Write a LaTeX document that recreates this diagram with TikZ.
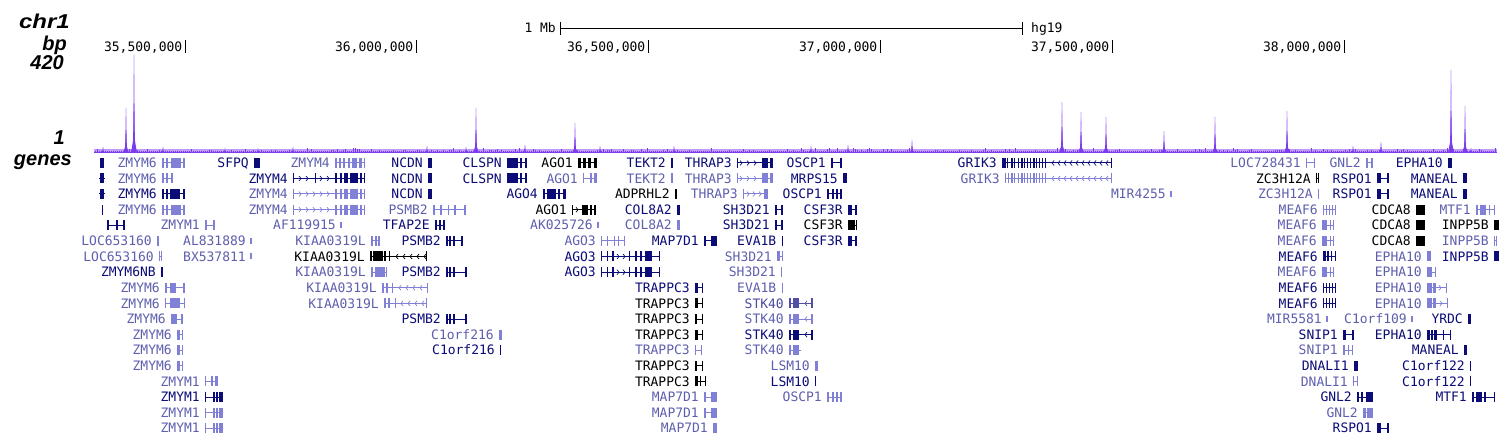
\documentclass[tikz,border=0pt]{standalone}
\usepackage{fontspec}
\newfontfamily\gf{DejaVu Sans Mono}
\newfontfamily\lf{Liberation Sans}
\definecolor{gD}{RGB}{12,12,120}
\definecolor{tD}{RGB}{12,12,120}
\definecolor{gL}{RGB}{128,128,215}
\definecolor{tL}{RGB}{95,95,175}
\definecolor{gM}{RGB}{80,80,170}
\definecolor{tM}{RGB}{75,75,160}
\definecolor{gK}{RGB}{0,0,0}
\definecolor{tK}{RGB}{0,0,0}
\definecolor{sigD}{RGB}{125,60,235}
\definecolor{sigL}{RGB}{192,155,252}
\newcounter{gc}
\tikzset{
  glab/.style={font=\gf\fontsize{13}{13}\selectfont, anchor=base east, inner sep=0pt},
  axl/.style={font=\gf\fontsize{13}{13}\selectfont, anchor=base east, inner sep=0pt, text=black},
  lbl/.style={font=\lf\bfseries\itshape\fontsize{20}{20}\selectfont, anchor=base east, inner sep=0pt, text=black},
}
\newcommand\gly[5]{%
  \draw[g#4, line width=1pt] (#2,#1) -- (#3,#1);
  \foreach \p/\q in {#5} {\fill[g#4] (\p,#1-5) rectangle (\q,#1+5);}
}
\newcommand\gene[6]{%
  \stepcounter{gc}%
  \node[glab, text=t#4] (gene\thegc) at (#2-5,#1+4.7) {#5};
  \gly{#1}{#2}{#3}{#4}{#6}
}
\newcommand\tgene[4]{%
  \stepcounter{gc}%
  \node[glab, text=t#3] (gene\thegc) at (#2-5,#1+4.7) {#4};
  \fill[g#3] (#2-0.6,#1-3) rectangle (#2+0.6,#1+3);
}
\newcommand\chev[4]{%
  \foreach \x in {#2} {\draw[g#3, line width=0.7pt] ({\x-2*(#4)},{#1-2.5}) -- (\x,#1) -- ({\x-2*(#4)},{#1+2.5});}
}
\newcommand\pk[2]{%
  \fill[sigL] ({#1-0.9},152) -- ({#1-0.4},#2) -- ({#1+0.4},#2) -- ({#1+0.9},152) -- cycle;
  \fill[sigD] ({#1-1},152) -- ({#1-0.4},{#2+0.5*(152-#2)}) -- ({#1+0.4},{#2+0.5*(152-#2)}) -- ({#1+1},152) -- cycle;
  \fill[sigD] ({#1-3},153) -- (#1,{152-0.18*(152-#2)}) -- ({#1+3},153) -- cycle;
}
\begin{document}
\begin{tikzpicture}[x=1pt,y=-1pt]
\useasboundingbox (0,0) rectangle (1499,438);
\fill[white] (0,0) rectangle (1499,438);

% left labels
\node[lbl, xscale=1.2] (chr) at (70,29) {chr1};
\node[lbl] (bp) at (67,51) {bp};
\node[lbl] (top) at (64,69.5) {420};
\node[lbl] (one) at (65,145) {1};
\node[lbl] (genes) at (72,166) {genes};

% scale bar
\node[axl] (mb) at (556,32.7) {1 Mb};
\coordinate (sbl) at (560,28.5);
\coordinate (sbr) at (1022,28.5);
\draw[line width=1pt] (sbl) -- (sbr);
\draw[line width=1pt] (560,22) -- (560,35);
\draw[line width=1pt] (1022,22) -- (1022,35);
\node[axl, anchor=base west] (hg) at (1031,32.7) {hg19};

% axis
\foreach \x/\t [count=\i] in {185/{35,500,000},416/{36,000,000},648/{36,500,000},880/{37,000,000},1112/{37,500,000},1344/{38,000,000}} {
  \draw[line width=1pt] (\x,40) -- (\x,53);
  \node[axl] (ax\i) at (\x-2.5,51.5) {\t};
}

% signal track
\fill[sigL] (94,149.5) rectangle (1497,153.5);
\pgfmathsetseed{11}
\foreach \x in {95,97,...,1495} {
  \pgfmathsetmacro\hh{0.5+3.5*pow(rnd,4)}
  \draw[sigD, line width=0.6pt] (\x,152) -- (\x,{152-\hh});
}
\draw[sigD, line width=1.6pt] (94,152.6) -- (1497,152.6);
\foreach \x/\t in {103/147,163/147,225/148,258/148,293/147,427/146,466/147,525/145,600/146,674/146,811/146,848/145,1353/146,1471/148} {\pk{\x}{\t}}
\foreach \x/\t in {126/108,134/55,476/108,575/123,912/140,1062/102,1081/112,1106/117,1164/131,1215/117,1287/111,1381/142,1451/70,1465/106} {\pk{\x}{\t}}

% ---------------- genes ----------------
% row 1
\gly{163}{100}{104}{D}{100/104}
\gene{163}{162}{185}{L}{ZMYM6}{162/164,166/168,171/181,183/185}
\gene{163}{254}{260}{D}{SFPQ}{254/260}
\gene{163}{335}{365}{L}{ZMYM4}{335/337,339/341,343/345,348/350,352/357,359/362,364/365}
\gene{163}{428}{432}{D}{NCDN}{428/432}
\gene{163}{507}{527}{D}{CLSPN}{507/518,520/522,525/527}
\gene{163}{578}{597}{K}{AGO1}{578/581,583/586,588/591,594/597}
\gene{163}{671}{673}{D}{TEKT2}{671/673}
\gene{163}{737}{773}{D}{THRAP3}{737/738,762/768,770/773}
\chev{163}{742,749,756}{D}{1}
\gene{163}{831}{842}{D}{OSCP1}{831/833,840/842}
\gene{163}{1002}{1112}{D}{GRIK3}{1002/1006,1007/1008,1011/1013,1014/1015,1018/1019,1021/1023,1024/1025,1027/1028,1030/1031,1033/1035,1036/1037,1039/1040,1042/1043,1045/1046,1111/1112}
\chev{163}{1052,1058,...,1106}{D}{-1}
\gene{163}{1306}{1315}{L}{LOC728431}{1306/1307,1314/1315}
\gene{163}{1366}{1373}{L}{GNL2}{1366/1368,1371/1373}
\gene{163}{1448}{1452}{D}{EPHA10}{1448/1452}

% row 2
\gly{178.5}{99}{105}{D}{100/104}
\gene{178.5}{162}{173}{L}{ZMYM6}{162/164,166/168,171/173}
\gene{178.5}{293}{365}{D}{ZMYM4}{293/294,315/316,335/337,340/342,344/348,350/358,360/362,364/365}
\chev{178.5}{301,308,322,329}{D}{1}
\gene{178.5}{428}{432}{D}{NCDN}{428/432}
\gene{178.5}{507}{527}{D}{CLSPN}{507/518,520/522,525/527}
\gene{178.5}{583}{597}{L}{AGO1}{583/584,590/592,594/597}
\gene{178.5}{671}{673}{L}{TEKT2}{671/673}
\gene{178.5}{737}{773}{L}{THRAP3}{737/738,762/768,770/773}
\chev{178.5}{742,749,756}{L}{1}
\gene{178.5}{843}{847}{D}{MRPS15}{843/847}
\gene{178.5}{1005}{1112}{L}{GRIK3}{1005/1006,1008/1009,1011/1013,1014/1015,1018/1019,1021/1023,1024/1025,1027/1028,1030/1031,1033/1035,1036/1037,1039/1040,1042/1043,1045/1046,1111/1112}
\chev{178.5}{1052,1058,...,1106}{L}{-1}
\gene{178.5}{1316}{1319}{K}{ZC3H12A}{1316/1317,1318/1319}
\gene{178.5}{1377}{1389}{D}{RSPO1}{1377/1381,1387/1389}
\gene{178.5}{1463}{1467}{D}{MANEAL}{1463/1467}

% row 3
\gly{194}{99}{105}{D}{100/104}
\gene{194}{162}{185}{D}{ZMYM6}{162/164,166/168,170/180,183/185}
\gene{194}{293}{365}{L}{ZMYM4}{293/294,335/337,340/342,344/348,350/358,360/362,364/365}
\chev{194}{301,308,...,329}{L}{1}
\gene{194}{428}{432}{D}{NCDN}{428/432}
\gene{194}{543}{566}{D}{AGO4}{543/545,547/556,558/560,563/566}
\gene{194}{675}{677}{K}{ADPRHL2}{675/677}
\gene{194}{743}{768}{L}{THRAP3}{743/744,764/768}
\chev{194}{749,755,761}{L}{1}
\gene{194}{827}{842}{D}{OSCP1}{827/829,832/834,836/838,840/842}
\tgene{194}{1171}{L}{MIR4255}
\gene{194}{1318}{1319}{L}{ZC3H12A}{1318/1319}
\gene{194}{1377}{1389}{D}{RSPO1}{1377/1381,1387/1389}
\gene{194}{1463}{1467}{D}{MANEAL}{1463/1467}

% row 4
\gly{209.7}{101.5}{102.5}{D}{101.5/102.5}
\gene{209.7}{162}{185}{L}{ZMYM6}{162/164,166/168,171/181,183/185}
\gene{209.7}{293}{365}{L}{ZMYM4}{293/294,335/337,340/342,344/348,350/358,360/362,364/365}
\chev{209.7}{301,308,...,329}{L}{1}
\gene{209.7}{433}{466}{L}{PSMB2}{433/435,440/442,448/449,454/456,464/466}
\gene{209.7}{572}{596}{K}{AGO1}{572/573,582/588,590/592,594/596}
\chev{209.7}{578}{K}{1}
\gene{209.7}{677}{680}{D}{COL8A2}{677/680}
\gene{209.7}{775}{783}{D}{SH3D21}{775/777,781/783}
\gene{209.7}{848}{857}{D}{CSF3R}{848/852,855/857}
\gene{209.7}{1323}{1336}{L}{MEAF6}{1323/1324,1326/1327,1329/1330,1332/1333,1335/1336}
\gene{209.7}{1416}{1425}{K}{CDCA8}{1416/1425}
\gene{209.7}{1476}{1495}{L}{MTF1}{1476/1478,1480/1486,1489/1490,1494/1495}

% row 5
\gly{225.3}{107}{125}{D}{107/109,116/118,123/125}
\gene{225.3}{205}{215}{L}{ZMYM1}{205/207,213/215}
\tgene{225.3}{341}{L}{AF119915}
\gene{225.3}{435}{445}{D}{TFAP2E}{435/437,439/441,443/445}
\tgene{225.3}{598}{L}{AK025726}
\gene{225.3}{677}{680}{L}{COL8A2}{677/680}
\gene{225.3}{775}{783}{D}{SH3D21}{775/777,781/783}
\gene{225.3}{848}{857}{K}{CSF3R}{848/855,856/857}
\gene{225.3}{1322}{1334}{L}{MEAF6}{1322/1327,1330/1331,1333/1334}
\gene{225.3}{1416}{1425}{K}{CDCA8}{1416/1425}
\gene{225.3}{1494}{1499}{K}{INPP5B}{1494/1499}

% row 6
\gene{241}{157}{159}{L}{LOC653160}{157/159}
\tgene{241}{251}{L}{AL831889}
\gene{241}{371}{380}{L}{KIAA0319L}{371/373,375/377,378/380}
\gene{241}{446}{463}{D}{PSMB2}{446/448,449/451,453/455,461/463}
\gene{241}{601}{625}{L}{AGO3}{601/602,607/608,614/615,618/619,624/625}
\gene{241}{704}{717}{D}{MAP7D1}{704/706,711/717}
\gene{241}{781.5}{782.5}{D}{EVA1B}{781.5/782.5}
\gene{241}{848}{857}{D}{CSF3R}{848/852,855/857}
\gene{241}{1322}{1334}{L}{MEAF6}{1322/1327,1330/1331,1333/1334}
\gene{241}{1416}{1425}{K}{CDCA8}{1416/1425}
\gene{241}{1494}{1497}{L}{INPP5B}{1494/1495,1496/1497}

% row 7
\gene{256.5}{159}{162}{L}{LOC653160}{159/160,161/162}
\tgene{256.5}{251}{L}{BX537811}
\gene{256.5}{370}{427}{K}{KIAA0319L}{370/372,373/383,384/386,389/390,426/427}
\chev{256.5}{396,403,...,424}{K}{-1}
\gene{256.5}{601}{660}{D}{AGO3}{601/602,607/608,612/614,629/630,635/637,640/642,645/652,659/660}
\chev{256.5}{619,625}{D}{1}
\gene{256.5}{777}{783}{L}{SH3D21}{777/780,782/783}
\gene{256.5}{1323}{1336}{D}{MEAF6}{1323/1326,1327/1329,1331/1332,1335/1336}
\gene{256.5}{1427}{1431}{L}{EPHA10}{1427/1431}
\gene{256.5}{1494}{1499}{D}{INPP5B}{1494/1499}

% row 8
\gene{272.2}{161}{163}{D}{ZMYM6NB}{161/163}
\gene{272.2}{371}{387}{L}{KIAA0319L}{371/373,375/385,386/387}
\gene{272.2}{446}{467}{D}{PSMB2}{446/448,449/451,453/455,465/467}
\gene{272.2}{601}{660}{D}{AGO3}{601/602,607/608,612/614,629/630,635/637,640/642,645/652,659/660}
\chev{272.2}{619,625}{D}{1}
\gene{272.2}{781}{782}{L}{SH3D21}{781/782}
\gene{272.2}{1322}{1334}{L}{MEAF6}{1322/1327,1330/1331,1333/1334}
\gene{272.2}{1427}{1436}{L}{EPHA10}{1427/1432,1435/1436}

% row 9
\gene{287.8}{165}{185}{L}{ZMYM6}{165/167,170/176,183/185}
\gene{287.8}{382}{428}{L}{KIAA0319L}{382/384,386/388,392/393,427/428}
\chev{287.8}{399,406,...,420}{L}{-1}
\gene{287.8}{695}{703}{D}{TRAPPC3}{695/698,702/703}
\gene{287.8}{781.5}{782.5}{L}{EVA1B}{781.5/782.5}
\gene{287.8}{1323}{1336}{D}{MEAF6}{1323/1324,1326/1327,1329/1330,1332/1333,1335/1336}
\gene{287.8}{1427}{1447}{L}{EPHA10}{1427/1432,1433/1436,1446/1447}
\chev{287.8}{1441}{L}{1}

% row 10
\gene{303.4}{165}{185}{L}{ZMYM6}{165/166,170/180,184/185}
\gene{303.4}{384}{427}{L}{KIAA0319L}{384/386,388/390,395/396,426/427}
\chev{303.4}{401,408,...,422}{L}{-1}
\gene{303.4}{695}{703}{K}{TRAPPC3}{695/698,702/703}
\gene{303.4}{789}{813}{M}{STK40}{789/791,793/799,811/813}
\chev{303.4}{805}{M}{-1}
\gene{303.4}{1323}{1336}{D}{MEAF6}{1323/1324,1326/1327,1329/1330,1332/1333,1335/1336}
\gene{303.4}{1427}{1448}{L}{EPHA10}{1427/1432,1433/1436,1447/1448}
\chev{303.4}{1442}{L}{1}

% row 11
\gene{319}{171}{183}{L}{ZMYM6}{171/177,181/183}
\gene{319}{446}{467}{D}{PSMB2}{446/448,449/451,453/455,465/467}
\gene{319}{695}{703}{K}{TRAPPC3}{695/697,702/703}
\gene{319}{789}{813}{L}{STK40}{789/791,793/799,811/813}
\chev{319}{805}{L}{-1}
\tgene{319}{1327}{L}{MIR5581}
\tgene{319}{1412}{L}{C1orf109}
\gene{319}{1468}{1471}{D}{YRDC}{1468/1471}

% row 12
\gene{334.6}{177}{183}{L}{ZMYM6}{177/180,182/183}
\gene{334.6}{499}{502}{L}{C1orf216}{499/502}
\gene{334.6}{695}{703}{K}{TRAPPC3}{695/698,702/703}
\gene{334.6}{789}{813}{D}{STK40}{789/791,793/799,811/813}
\chev{334.6}{805}{D}{-1}
\gene{334.6}{1343}{1354}{D}{SNIP1}{1343/1346,1352/1354}
\gene{334.6}{1427}{1451}{D}{EPHA10}{1427/1430,1431/1433,1434/1437,1443/1444,1450/1451}

% row 13
\gene{350.2}{177}{183}{L}{ZMYM6}{177/180,182/183}
\gene{350.2}{500}{501}{D}{C1orf216}{500/501}
\gene{350.2}{695}{702}{L}{TRAPPC3}{695/696,701/702}
\gene{350.2}{789}{801}{L}{STK40}{789/791,793/799}
\gene{350.2}{1343}{1353}{L}{SNIP1}{1343/1345,1348/1349,1352/1353}
\gene{350.2}{1464}{1467}{D}{MANEAL}{1464/1467}

% row 14
\gene{365.8}{177}{183}{L}{ZMYM6}{177/180,182/183}
\gene{365.8}{695}{703}{K}{TRAPPC3}{695/697,702/703}
\gene{365.8}{815}{818}{L}{LSM10}{815/818}
\gene{365.8}{1354}{1358}{D}{DNALI1}{1354/1358}
\gene{365.8}{1470}{1471}{D}{C1orf122}{1470/1471}

% row 15
\gene{381.4}{205}{218}{L}{ZMYM1}{205/206,211/213,215/218}
\gene{381.4}{695}{706}{K}{TRAPPC3}{695/698,700/701,705/706}
\gene{381.4}{815}{816}{D}{LSM10}{815/816}
\gene{381.4}{1353}{1358}{L}{DNALI1}{1353/1354,1357/1358}
\gene{381.4}{1470}{1471}{D}{C1orf122}{1470/1471}

% row 16
\gene{397}{205}{223}{D}{ZMYM1}{205/206,213/215,216/218,219/223}
\gene{397}{704}{717}{L}{MAP7D1}{704/706,711/717}
\gene{397}{827}{842}{L}{OSCP1}{827/829,832/834,836/838,840/842}
\gene{397}{1357}{1373}{D}{GNL2}{1357/1359,1361/1363,1366/1373}
\gene{397}{1472}{1495}{D}{MTF1}{1472/1474,1476/1482,1484/1486,1494/1495}

% row 17
\gene{412.6}{205}{223}{L}{ZMYM1}{205/206,213/215,216/218,219/223}
\gene{412.6}{704}{717}{L}{MAP7D1}{704/706,711/717}
\gene{412.6}{1363}{1373}{L}{GNL2}{1363/1366,1367/1373}

% row 18
\gene{428.2}{205}{223}{L}{ZMYM1}{205/206,213/215,216/218,219/223}
\gene{428.2}{713}{717}{L}{MAP7D1}{713/717}
\gene{428.2}{1377}{1389}{D}{RSPO1}{1377/1381,1387/1389}
\end{tikzpicture}
\end{document}
